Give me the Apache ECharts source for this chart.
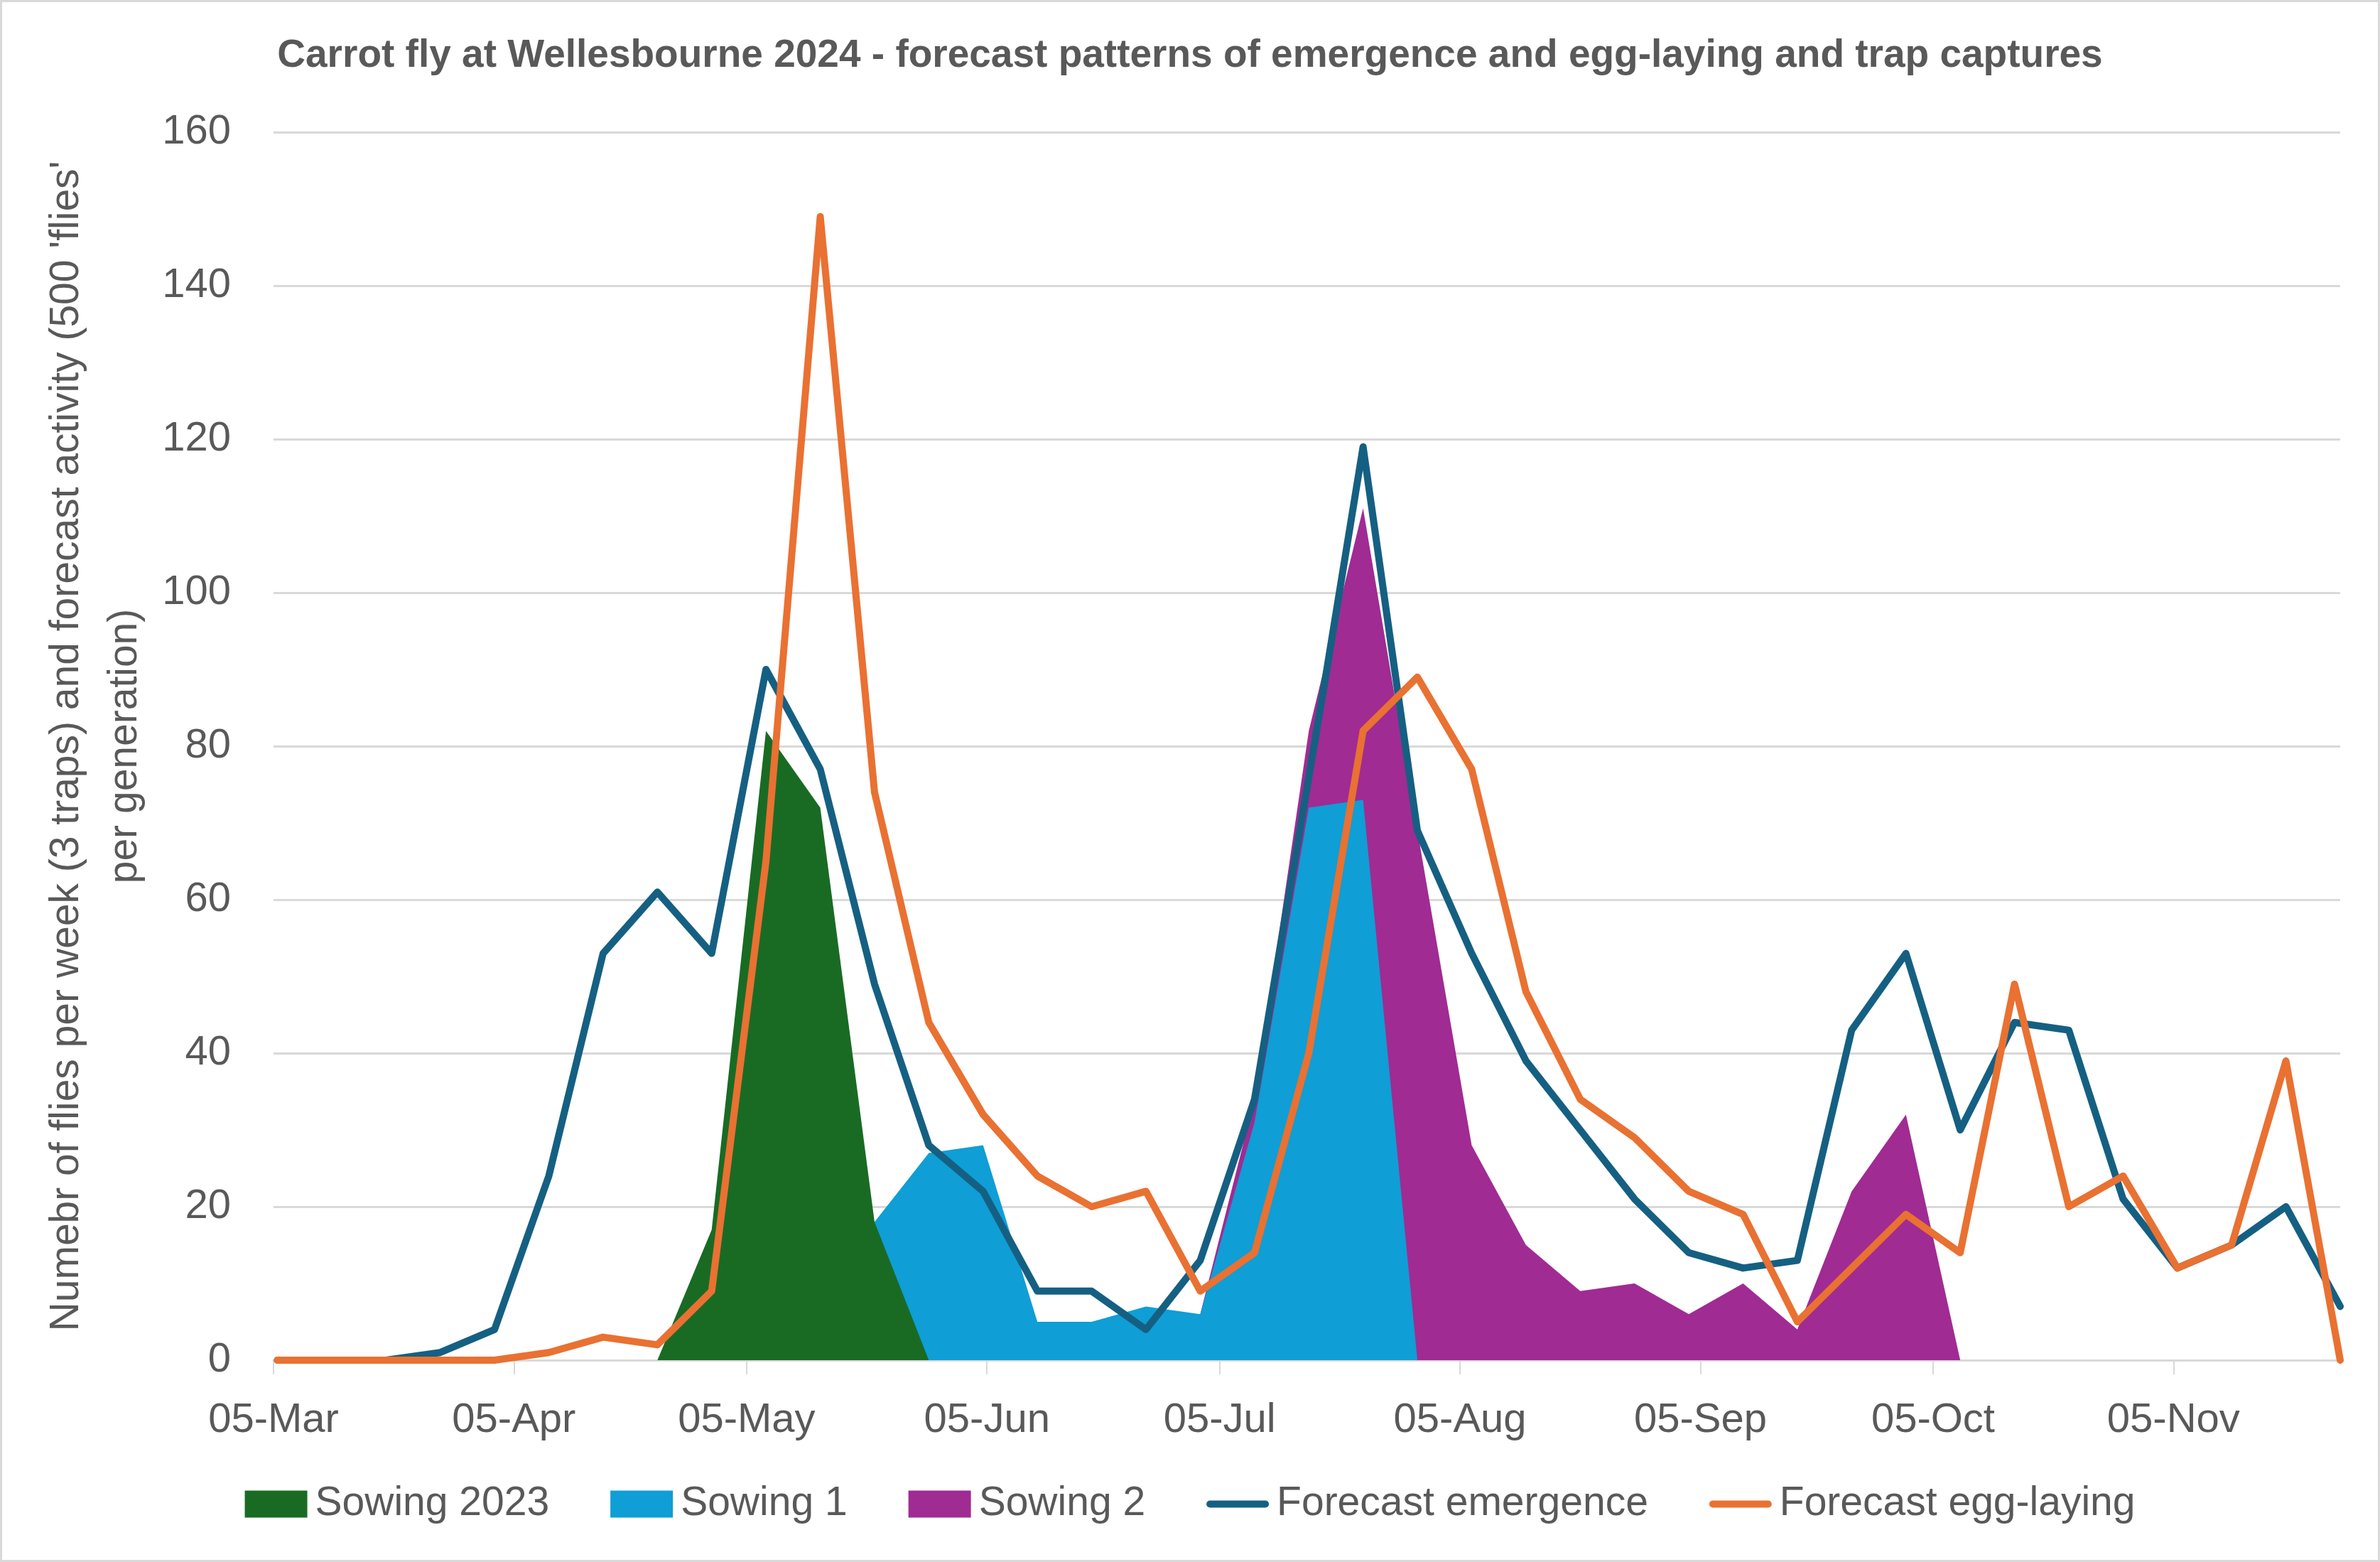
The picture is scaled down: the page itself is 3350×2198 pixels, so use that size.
<!DOCTYPE html>
<html>
<head>
<meta charset="utf-8">
<script src="https://cdn.jsdelivr.net/npm/echarts@6/dist/echarts.min.js"></script>
<style>
html,body{margin:0;padding:0;background:#fff;}
#frame{position:absolute;left:0;top:0;width:3350px;height:2198px;box-sizing:border-box;border:3px solid #d9d9d9;background:#fff;}
#chart{position:absolute;left:0;top:0;width:3350px;height:2198px;}
</style>
</head>
<body>
<div id="frame"></div>
<div id="chart"></div>
<script>
// ---- data ----
const startDate = '2024-03-05';
const weekDates = ['2024-03-05','2024-03-12','2024-03-19','2024-03-26','2024-04-02','2024-04-09','2024-04-16','2024-04-23','2024-04-30',
  '2024-05-07','2024-05-14','2024-05-21','2024-05-28','2024-06-04','2024-06-11','2024-06-18','2024-06-25',
  '2024-07-02','2024-07-09','2024-07-16','2024-07-23','2024-07-30','2024-08-06','2024-08-13','2024-08-20','2024-08-27',
  '2024-09-03','2024-09-10','2024-09-17','2024-09-24','2024-10-01','2024-10-08','2024-10-15','2024-10-22','2024-10-29',
  '2024-11-05','2024-11-12','2024-11-19','2024-11-26'];
const emergenceDates = ['2024-03-05','2024-03-12','2024-03-19','2024-03-26','2024-04-02','2024-04-09','2024-04-16','2024-04-23','2024-04-30',
  '2024-05-07','2024-05-14','2024-05-21','2024-05-28','2024-06-04','2024-06-11','2024-06-18','2024-06-25',
  '2024-07-02','2024-07-09','2024-07-18','2024-07-23','2024-07-30','2024-08-06','2024-08-13','2024-08-20','2024-08-27',
  '2024-09-03','2024-09-10','2024-09-17','2024-09-24','2024-10-01','2024-10-08','2024-10-15','2024-10-22','2024-10-29',
  '2024-11-05','2024-11-12','2024-11-19','2024-11-26'];
const forecastEmergence = [0,0,0,1,4,24,53,61,53,90,77,49,28,22,9,9,4,13,34,88,119,69,53,39,30,21,14,12,13,43,53,30,44,43,21,12,15,20,7];
const forecastEggLaying = [0,0,0,0,0,1,3,2,9,65,149,74,44,32,24,20,22,9,14,40,82,89,77,48,34,29,22,19,5,12,19,14,49,20,24,12,15,39,0];
const sowing2023 = [null,null,null,null,null,null,null,0,17,82,72,18,0,null,null,null,null,null,null,null,null,null,null,null,null,null,null,null,null,null,null,null,null,null,null,null,null,null,null];
const sowing1 = [null,null,null,null,null,null,null,null,null,null,0,18,27,28,5,5,7,6,31,72,73,0,null,null,null,null,null,null,null,null,null,null,null,null,null,null,null,null,null];
const sowing2 = [null,null,null,null,null,null,null,null,null,null,null,null,null,null,null,null,0,6,34,82,111,69,28,15,9,10,6,10,4,22,32,0,null,null,null,null,null,null,null];
const xTickDates = ['2024-03-05','2024-04-05','2024-05-05','2024-06-05','2024-07-05','2024-08-05','2024-09-05','2024-10-05','2024-11-05'];
const xTickLabels = ['05-Mar','05-Apr','05-May','05-Jun','05-Jul','05-Aug','05-Sep','05-Oct','05-Nov'];
const yTicks = [0,20,40,60,80,100,120,140,160];

// ---- helpers ----
function dayOf(s){
  const p = s.split('-').map(Number), q = startDate.split('-').map(Number);
  return (Date.UTC(p[0],p[1]-1,p[2]) - Date.UTC(q[0],q[1]-1,q[2])) / 864e5;
}
const half = 0.5; // Excel date-axis: points sit in the middle of their day
function pairs(dates, vals){ return dates.map((d,i)=>[dayOf(d)+half, vals[i]]); }
const tickDays = xTickDates.map(dayOf);
const lastDay = dayOf(weekDates[weekDates.length-1]) + half;

const FONT = "'Liberation Sans', Arial, sans-serif";
const GREY = '#595959';

function area(name, vals, color){
  return {name, type:'line', data:pairs(weekDates, vals), showSymbol:false, symbol:'none',
    lineStyle:{width:0}, areaStyle:{color, opacity:1}, itemStyle:{color}, connectNulls:false, silent:true};
}
function line(name, dates, vals, color){
  return {name, type:'line', data:pairs(dates, vals), showSymbol:false, symbol:'none',
    lineStyle:{width:10, color, join:'round', cap:'round'}, itemStyle:{color}, silent:true};
}
const lineIcon = 'path://M5,0 H83 A5,5 0 0 1 83,10 H5 A5,5 0 0 1 5,0 Z';

const chart = echarts.init(document.getElementById('chart'), null, {renderer:'canvas'});
chart.setOption({
  backgroundColor:'transparent',
  animation:false,
  title:{
    text:'Carrot fly at Wellesbourne 2024 - forecast patterns of emergence and egg-laying and trap captures',
    left:'center', top:46,
    textStyle:{fontFamily:FONT, fontSize:55, fontWeight:'bold', color:GREY}
  },
  grid:{left:385, right:56, top:186, bottom:284, containLabel:false},
  legend:{
    bottom:48, left:'center', itemWidth:88, itemHeight:38, itemGap:86,
    textStyle:{fontFamily:FONT, fontSize:57, color:GREY, padding:[0,0,0,6]},
    data:[
      {name:'Sowing 2023', icon:'rect'},
      {name:'Sowing 1', icon:'rect'},
      {name:'Sowing 2', icon:'rect'},
      {name:'Forecast emergence', icon:lineIcon},
      {name:'Forecast egg-laying', icon:lineIcon}
    ]
  },
  xAxis:{
    type:'value', min:0, max:lastDay,
    axisLine:{show:true, lineStyle:{color:'#d9d9d9', width:3}},
    axisTick:{show:true, customValues:tickDays, length:20, lineStyle:{color:'#d9d9d9', width:2}},
    axisLabel:{customValues:tickDays, margin:56, fontFamily:FONT, fontSize:58, color:GREY,
      formatter:(v)=>{ const i = tickDays.indexOf(v); return i>=0 ? xTickLabels[i] : ''; }},
    splitLine:{show:false}
  },
  yAxis:{
    type:'value', min:yTicks[0], max:yTicks[yTicks.length-1], interval:yTicks[1]-yTicks[0],
    name:"Numebr of flies per week (3 traps) and forecast activity (500 'flies'\nper generation)",
    nameLocation:'middle', nameGap:158,
    nameTextStyle:{fontFamily:FONT, fontSize:57, color:GREY, lineHeight:82, align:'center'},
    axisLine:{show:false}, axisTick:{show:false},
    axisLabel:{margin:60, fontFamily:FONT, fontSize:58, color:GREY},
    splitLine:{lineStyle:{color:'#d9d9d9', width:3}}
  },
  series:[
    area('Sowing 2', sowing2, '#A02B93'),
    area('Sowing 1', sowing1, '#0F9ED5'),
    area('Sowing 2023', sowing2023, '#196B24'),
    line('Forecast emergence', emergenceDates, forecastEmergence, '#156082'),
    line('Forecast egg-laying', weekDates, forecastEggLaying, '#E97132')
  ]
});
</script>
</body>
</html>
